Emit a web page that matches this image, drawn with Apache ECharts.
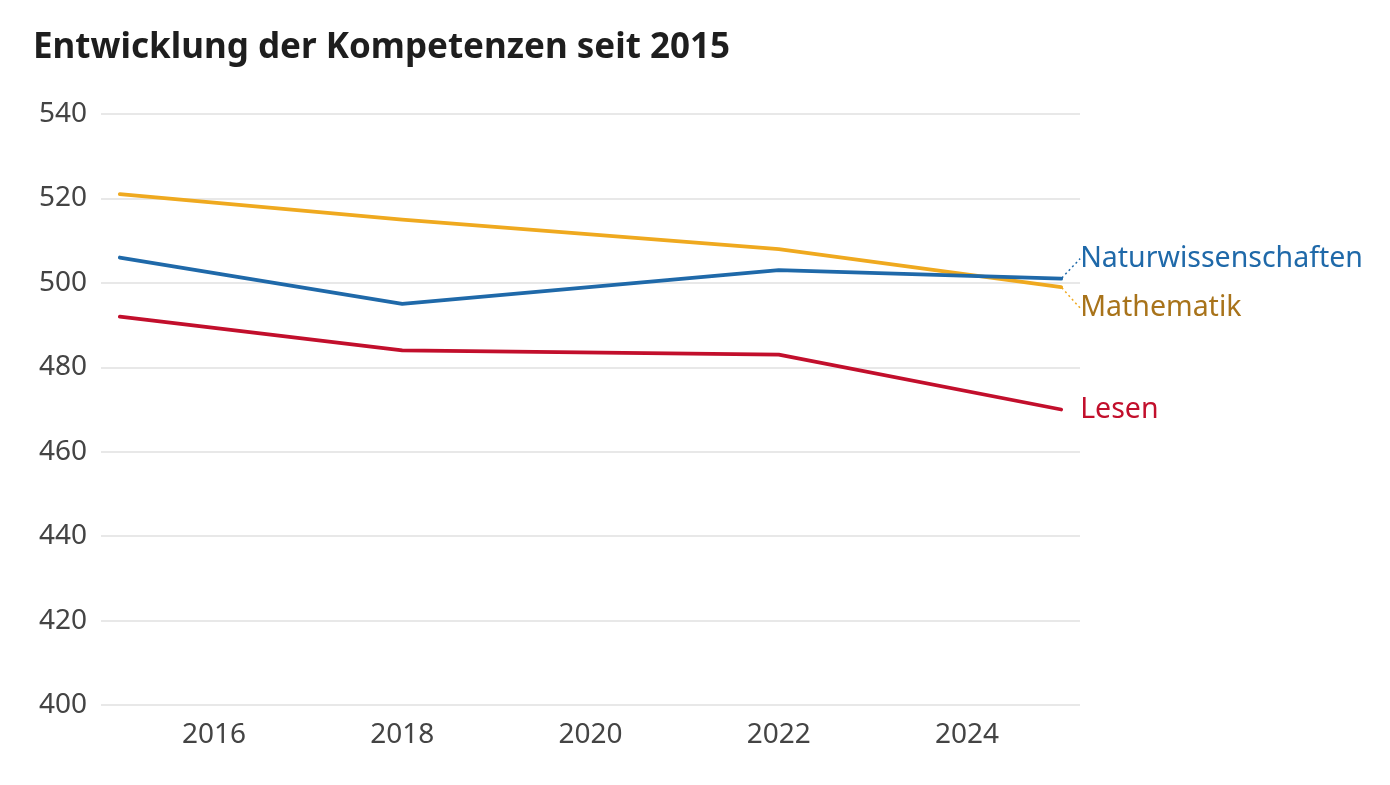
<!DOCTYPE html>
<html>
<head>
<meta charset="utf-8">
<script src="https://cdn.jsdelivr.net/npm/echarts@6/dist/echarts.min.js"></script>
<style>
html,body{margin:0;padding:0;background:#fff;}
#chart{width:1390px;height:785px;}
</style>
</head>
<body>
<div id="chart"></div>
<script>
var years = [2015, 2018, 2022, 2025];
var mathematik = [521, 515, 508, 499];
var naturwissenschaften = [506, 495, 503, 501];
var lesen = [492, 484, 483, 470];
var xTicks = [2016, 2018, 2020, 2022, 2024];
var seriesNames = ['Naturwissenschaften', 'Mathematik', 'Lesen'];
var lineColors = ['#1f69a9', '#efa91f', '#c20f2c'];
var labelColors = ['#1f69a9', '#a8731a', '#c20f2c'];
var labelShift = [-20, 21, 0];
var values = [naturwissenschaften, mathematik, lesen];

var FONT = '"Noto Sans", sans-serif';

function buildSeries(idx) {
  var vals = values[idx];
  var data = vals.map(function (v, i) {
    var item = { value: [years[i], v], symbolSize: 0 };
    if (i === vals.length - 1) {
      item.symbolSize = 2;
      item.label = {
        show: true,
        position: 'right',
        distance: 18,
        formatter: seriesNames[idx],
        color: labelColors[idx],
        fontFamily: FONT,
        fontSize: 28.5
      };
      item.labelLine = {
        show: labelShift[idx] !== 0,
        lineStyle: { color: lineColors[idx], width: 1.5, type: [2, 3] }
      };
    }
    return item;
  });
  return {
    name: seriesNames[idx],
    type: 'line',
    data: data,
    symbol: 'circle',
    showSymbol: true,
    itemStyle: { color: lineColors[idx] },
    lineStyle: { color: lineColors[idx], width: 3.8, cap: 'round', join: 'round' },
    emphasis: { disabled: true },
    silent: true,
    animation: false,
    z: idx === 1 ? 2 : 3,
    labelLayout: function () { return { dy: labelShift[idx] }; }
  };
}

var chart = echarts.init(document.getElementById('chart'));
chart.setOption({
  backgroundColor: '#ffffff',
  animation: false,
  title: {
    text: 'Entwicklung der Kompetenzen seit 2015',
    left: 28,
    top: 26,
    textStyle: { fontFamily: FONT, fontWeight: 'bold', fontSize: 35, color: '#1e1e1e' }
  },
  grid: { left: 101, right: 310, top: 114, bottom: 80, containLabel: false },
  xAxis: {
    type: 'value',
    min: 2014.8,
    max: 2025.2,
    axisLine: { show: false },
    axisTick: { show: false },
    splitLine: { show: false },
    axisLabel: {
      customValues: xTicks,
      margin: 16,
      color: '#444',
      fontFamily: FONT,
      fontSize: 28,
      formatter: function (v) { return String(v); }
    }
  },
  yAxis: {
    type: 'value',
    min: 400,
    max: 540,
    interval: 20,
    axisLine: { show: false },
    axisTick: { show: false },
    splitLine: { lineStyle: { color: '#e0e0e0', width: 1.5 } },
    axisLabel: { margin: 14, color: '#444', fontFamily: FONT, fontSize: 28 }
  },
  series: [buildSeries(1), buildSeries(0), buildSeries(2)]
});
</script>
</body>
</html>
